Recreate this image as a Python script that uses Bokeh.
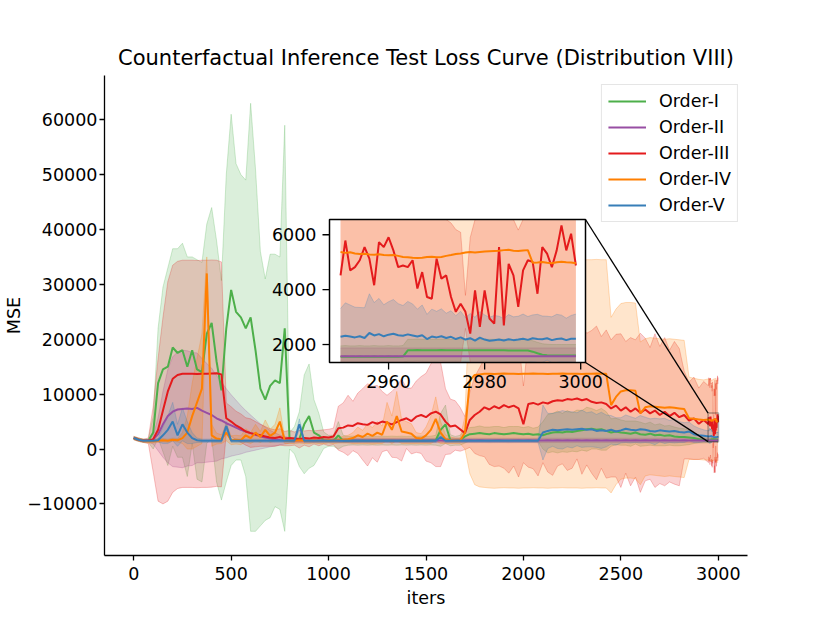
from bokeh.plotting import figure
from bokeh.models import (ColumnDataSource, Range1d, FixedTicker, CustomJSTickFormatter,
                          BoxAnnotation, Legend, LegendItem)
from bokeh.core.properties import value
from bokeh.embed import file_html
from bokeh.resources import INLINE

FONT = "DejaVu Sans"

# ---------------- data ----------------
# iterations: every 25 iters up to 2925, then every iter for the last 50 (zoomed in the inset)
iters = list(range(0, 2926, 25)) + list(range(2950, 3000))

x_ticks = [0, 500, 1000, 1500, 2000, 2500, 3000]
y_ticks = [-10000, 0, 10000, 20000, 30000, 40000, 50000, 60000]
inset_x_ticks = [2960, 2980, 3000]
inset_y_ticks = [2000, 4000, 6000]

names = ["Order-I", "Order-II", "Order-III", "Order-IV", "Order-V"]
colors = ["#4daf4a", "#984ea3", "#e41a1c", "#ff7f00", "#377eb8"]

order1_mean = [
    2000, 1700, 1500, 1500, 3000, 12000, 14500, 15000, 18500, 17500,
    18000, 15000, 18000, 14500, 14000, 21000, 23000, 16000, 10700, 22000,
    29000, 25000, 24000, 22000, 24000, 18000, 11000, 9000, 11500, 12500,
    12000, 22000, 1500, 1600, 1800, 4500, 6000, 3000, 2500, 1600,
    1500, 1500, 2500, 1500, 1500, 1550, 1500, 1550, 1500, 1550,
    1500, 1550, 1500, 1550, 1500, 1550, 1500, 1550, 1500, 1550,
    1500, 1550, 1600, 3500, 4500, 1600, 1500, 1600, 2300, 2700,
    2800, 2900, 2800, 2700, 2900, 2800, 2700, 2800, 2900, 2800,
    2700, 2800, 2600, 2700, 2500, 2800, 3000, 3100, 3000, 3200,
    3100, 3300, 3400, 3600, 3700, 3500, 3600, 3300, 3000, 3200,
    3000, 2900, 2800, 3000, 2700, 2600, 2800, 2500, 2600, 2400,
    2500, 2300, 2200, 2200, 2100, 2000, 1800, 1600,
    1550, 1560, 1550, 1550, 1560, 1550, 1550, 1560, 1550, 1550,
    1560, 1550, 1550, 1560, 1790, 1790, 1800, 1790, 1790, 1790,
    1790, 1800, 1790, 1790, 1790, 1790, 1790, 1790, 1790, 1790,
    1790, 1790, 1790, 1790, 1790, 1780, 1780, 1780, 1780, 1780,
    1740, 1680, 1630, 1610, 1600, 1600, 1600, 1600, 1600, 1600,
]
order1_std = [
    300, 300, 300, 300, 3000, 10000, 15000, 18000, 18000, 19000,
    19500, 20000, 17000, 20000, 20000, 20000, 21000, 22000, 20000, 28000,
    32000, 27000, 26000, 27000, 39000, 33000, 25000, 22000, 24000, 23000,
    23000, 37000, 1500, 2500, 5000, 9000, 9500, 6000, 4000, 1500,
    1000, 1000, 2500, 1000, 800, 800, 800, 800, 800, 800,
    800, 800, 800, 800, 800, 800, 800, 800, 800, 800,
    800, 800, 900, 3000, 3500, 1000, 800, 900, 1200, 1200,
    1200, 1300, 1200, 1300, 1200, 1300, 1200, 1300, 1200, 1300,
    1200, 1300, 1200, 1300, 2500, 3500, 3500, 3800, 3500, 3800,
    3500, 3800, 3600, 4000, 3700, 3500, 3800, 3500, 2500, 2400,
    2300, 2200, 2300, 2100, 2200, 2000, 2100, 1900, 2000, 1800,
    1800, 1700, 1600, 1500, 1300, 1000, 700, 500,
    400, 400, 400, 400, 400, 400, 400, 400, 400, 400,
    400, 400, 400, 400, 400, 400, 400, 400, 400, 400,
    400, 400, 400, 400, 400, 400, 400, 400, 400, 400,
    400, 400, 400, 400, 400, 400, 400, 400, 400, 400,
    400, 400, 400, 400, 400, 400, 400, 400, 400, 400,
]

order2_mean = [
    2000, 1700, 1500, 1500, 1700, 2700, 4500, 6000, 6800, 7200,
    7300, 7400, 7300, 7500, 7000, 6600, 6200, 5600, 5200, 4700,
    4300, 3900, 3500, 3200, 2900, 2600, 2300, 2100, 1900, 1750,
    1650, 1600, 1580, 1570, 1560, 1560, 1550, 1550, 1550, 1550,
    1560, 1550, 1560, 1570, 1560, 1550, 1560, 1570, 1560, 1550,
    1560, 1570, 1560, 1550, 1560, 1570, 1560, 1550, 1560, 1570,
    1560, 1550, 1560, 1570, 1560, 1550, 1570, 1560, 1570, 1580,
    1570, 1580, 1570, 1560, 1570, 1580, 1570, 1560, 1570, 1580,
    1570, 1580, 1570, 1560, 1570, 1580, 1570, 1580, 1570, 1580,
    1570, 1580, 1570, 1580, 1570, 1580, 1570, 1580, 1570, 1580,
    1570, 1580, 1570, 1580, 1570, 1580, 1570, 1580, 1570, 1580,
    1570, 1580, 1570, 1580, 1570, 1580, 1570, 1575,
    1575, 1575, 1575, 1575, 1575, 1575, 1575, 1575, 1575, 1575,
    1575, 1575, 1575, 1575, 1575, 1575, 1575, 1575, 1575, 1575,
    1575, 1575, 1575, 1575, 1575, 1575, 1575, 1575, 1575, 1575,
    1575, 1575, 1575, 1575, 1575, 1575, 1575, 1575, 1575, 1575,
    1575, 1575, 1575, 1575, 1575, 1575, 1575, 1575, 1575, 1575,
]
order2_std = [
    200, 200, 200, 200, 800, 3000, 6000, 8500, 10000, 10500,
    10700, 10500, 10300, 10000, 9500, 9000, 8500, 7800, 7000, 6300,
    5600, 5000, 4400, 3800, 3300, 2800, 2300, 1900, 1500, 1200,
    900, 700, 500, 450, 400, 400, 400, 400, 400, 400,
    400, 400, 400, 400, 400, 400, 400, 400, 400, 400,
    400, 400, 400, 400, 400, 400, 400, 400, 400, 400,
    400, 400, 400, 400, 400, 400, 400, 400, 400, 400,
    400, 400, 400, 400, 400, 400, 400, 400, 400, 400,
    400, 400, 400, 400, 400, 400, 400, 400, 400, 400,
    400, 400, 400, 400, 400, 400, 400, 400, 400, 400,
    400, 400, 400, 400, 400, 400, 400, 400, 400, 400,
    400, 400, 400, 400, 400, 400, 350, 300,
    300, 300, 300, 300, 300, 300, 300, 300, 300, 300,
    300, 300, 300, 300, 300, 300, 300, 300, 300, 300,
    300, 300, 300, 300, 300, 300, 300, 300, 300, 300,
    300, 300, 300, 300, 300, 300, 300, 300, 300, 300,
    300, 300, 300, 300, 300, 300, 300, 300, 300, 300,
]

order3_mean = [
    2000, 1700, 1500, 1500, 1800, 3500, 7000, 10500, 12800, 13500,
    13700, 13700, 13700, 13650, 13700, 13700, 13750, 13800, 13600, 5600,
    5000, 4300, 3800, 3200, 2900, 2700, 2500, 2300, 2100, 2000,
    2200, 1900, 2000, 1900, 1800, 2000, 1900, 2100, 2000, 2200,
    2100, 2300, 3800, 3900, 4300, 4200, 4700, 4500, 4400, 4900,
    4600, 5000, 4800, 4500, 4900, 5300, 5600, 5100, 5900, 6200,
    5800, 6500, 6800, 6300, 5000, 4100, 4300, 3600, 2900, 5300,
    6200, 6800, 7600, 7200, 7800, 7400, 8000, 7600, 7900, 7400,
    4500, 8200, 8400, 8100, 8500, 8300, 8700, 8900, 8800, 9100,
    9000, 9200, 8900, 9100, 8600, 8400, 8500, 8200, 7400, 7900,
    7000, 7600, 6800, 7400, 6600, 7200, 6500, 7000, 6200, 6800,
    6000, 6600, 5800, 6200, 5200, 5600, 4600, 5300,
    4520, 5790, 4700, 4820, 5070, 5550, 5130, 4160, 5730, 5550,
    5910, 5430, 4820, 4880, 4820, 5070, 4040, 4640, 3730, 3670,
    5130, 4400, 4520, 3730, 3190, 3490, 3190, 2400, 3970, 2640,
    3970, 2950, 2760, 5550, 2700, 4940, 4520, 3370, 4700, 5070,
    5010, 3850, 5550, 5310, 4820, 5430, 6340, 5430, 6040, 4880,
]
order3_std = [
    300, 300, 300, 500, 6000, 13000, 17000, 20000, 20700, 20700,
    20700, 20700, 20700, 20700, 20700, 20700, 20700, 20600, 20500, 2800,
    2700, 2600, 2600, 2500, 2600, 2300, 2000, 1800, 1600, 1500,
    1500, 1300, 1400, 1200, 1600, 1300, 1500, 1200, 1400, 1300,
    1500, 1500, 4000, 4500, 5500, 4500, 5500, 6500, 7500, 6500,
    7000, 5500, 5000, 6000, 6500, 7500, 5500, 6000, 6500, 7000,
    8000, 9000, 10000, 9500, 6000, 5000, 4500, 4000, 3000, 5000,
    7000, 8000, 9000, 10000, 11000, 10500, 11500, 12000, 11000, 12500,
    7000, 11500, 12000, 13000, 11000, 12500, 13500, 12000, 11500, 13000,
    12500, 11000, 13500, 12000, 13000, 14000, 12000, 13500, 12500, 13000,
    14000, 12000, 13500, 12500, 14500, 13000, 12000, 14000, 12500, 13500,
    12000, 13000, 12500, 8000, 7000, 7500, 6500, 7000,
    7000, 7200, 6900, 7100, 7000, 7300, 6800, 7000, 7200, 7100,
    7000, 6900, 7100, 7000, 7200, 6900, 7100, 7000, 6800, 7000,
    7100, 7000, 6900, 2700, 3000, 2600, 600, 3500, 7000, 7000,
    7000, 7000, 7000, 7000, 7000, 7000, 7000, 2800, 7000, 7000,
    7000, 7000, 7000, 7000, 7000, 7000, 7000, 7000, 7000, 7000,
]

order4_mean = [
    2000, 1700, 1500, 1400, 1400, 1500, 1600, 1500, 1700, 1600,
    2000, 3000, 6000, 8500, 11000, 32000, 2500, 1900, 1800, 3000,
    1600, 1700, 1600, 2500, 2000, 3000, 2200, 3500, 2400, 3000,
    5000, 1500, 1500, 1500, 1600, 1500, 1500, 1600, 1500, 1500,
    1600, 1500, 1600, 1700, 1800, 2000, 2500, 2200, 2800, 2400,
    3000, 2600, 5000, 3500, 6000, 3200, 3000, 2800, 2000, 1900,
    2500, 3500, 5500, 3000, 1800, 1600, 1500, 1500, 3000, 12500,
    13500, 13600, 13700, 13700, 13650, 13700, 13750, 13700, 13700, 13650,
    13700, 13700, 13750, 13700, 13700, 13650, 13700, 13700, 13750, 13700,
    13700, 13700, 13650, 13700, 13700, 13750, 13700, 13700, 8000, 9500,
    10500, 10700, 10700, 10600, 6500, 7600, 7800, 7700, 7600, 7500,
    7600, 7500, 7400, 7300, 5600, 5500, 5400, 5300,
    5370, 5340, 5360, 5320, 5300, 5310, 5280, 5270, 5290, 5260,
    5250, 5260, 5230, 5190, 5180, 5160, 5150, 5160, 5190, 5200,
    5180, 5190, 5230, 5260, 5300, 5320, 5350, 5370, 5350, 5370,
    5390, 5400, 5410, 5420, 5440, 5450, 5420, 5410, 5430, 5440,
    4980, 4990, 5010, 4980, 4960, 5000, 5020, 5000, 4990, 4960,
]
order4_std = [
    300, 300, 300, 300, 300, 300, 300, 300, 300, 300,
    1000, 3000, 6000, 8000, 10000, 3000, 2000, 1000, 800, 1500,
    800, 800, 800, 1200, 1000, 1500, 1000, 1800, 1200, 1500,
    2500, 500, 500, 500, 500, 500, 500, 500, 500, 500,
    500, 500, 500, 600, 700, 1000, 1500, 1200, 1800, 1500,
    2000, 1600, 3500, 2500, 4500, 2200, 2000, 1800, 1000, 900,
    1500, 2500, 4000, 2000, 800, 600, 500, 500, 3000, 17000,
    20000, 20500, 20700, 20800, 20800, 20800, 20800, 20800, 20800, 20800,
    20800, 20800, 20800, 20800, 20800, 20800, 20800, 20800, 20800, 20800,
    20800, 20800, 20800, 20800, 20800, 20800, 20800, 20800, 16000, 16000,
    16000, 16000, 16000, 16000, 13000, 12500, 12500, 12500, 12500, 12500,
    12500, 12500, 12500, 12500, 7500, 7400, 7300, 7300,
    7400, 7400, 7400, 7400, 7400, 7400, 7400, 7400, 7400, 7400,
    7400, 7400, 7400, 7400, 7400, 7400, 7400, 7400, 7400, 7400,
    7400, 7400, 7400, 7400, 7400, 7400, 7400, 7400, 7400, 7400,
    7400, 7400, 7400, 7400, 7400, 7400, 7400, 7400, 7400, 7400,
    7400, 7400, 7400, 7400, 7400, 7400, 7400, 7400, 7400, 7400,
]

order5_mean = [
    2000, 1700, 1500, 1500, 1500, 1600, 2500, 3500, 5000, 2500,
    4500, 3000, 2000, 1600, 1500, 1500, 1500, 1500, 1500, 4200,
    1500, 1500, 1500, 1500, 1500, 1500, 1500, 1500, 1500, 1500,
    1500, 1500, 1500, 1500, 4500, 1500, 1500, 1500, 1500, 1500,
    1500, 1500, 1500, 1500, 1500, 1500, 1500, 1500, 1500, 1500,
    1500, 1500, 1500, 1500, 1500, 1500, 1500, 1500, 1500, 1500,
    1500, 1500, 1500, 2200, 1500, 1500, 1500, 1500, 1500, 1500,
    1500, 1500, 1500, 1500, 1500, 1500, 1500, 1500, 1500, 1500,
    1500, 1500, 1500, 1500, 3000, 3300, 3500, 3400, 3500, 3600,
    3500, 3600, 3700, 3500, 3600, 3300, 3400, 3300, 3500, 3200,
    3400, 3700, 3500, 3400, 3600, 3500, 3300, 3200, 3400, 3300,
    3200, 3300, 3100, 3000, 3200, 2700, 2500, 2400,
    2280, 2320, 2290, 2260, 2300, 2240, 2420, 2330, 2380, 2300,
    2360, 2390, 2340, 2320, 2370, 2330, 2290, 2340, 2200, 2290,
    2260, 2300, 2240, 2280, 2200, 2260, 2180, 2230, 2140, 2250,
    2180, 2140, 2160, 2180, 2150, 2190, 2160, 2180, 2210, 2170,
    2230, 2200, 2190, 2230, 2160, 2200, 2220, 2160, 2210, 2210,
]
order5_std = [
    200, 200, 200, 200, 200, 300, 1500, 2500, 3500, 2000,
    3000, 2000, 1000, 400, 300, 300, 300, 300, 300, 800,
    300, 300, 300, 300, 300, 300, 300, 300, 300, 300,
    300, 300, 300, 300, 1000, 300, 300, 300, 300, 300,
    300, 300, 300, 300, 300, 300, 300, 300, 300, 300,
    300, 300, 300, 300, 300, 300, 300, 300, 300, 300,
    300, 300, 300, 600, 300, 300, 300, 300, 300, 300,
    300, 300, 300, 300, 300, 300, 300, 300, 300, 300,
    300, 300, 300, 300, 5000, 3200, 3000, 3300, 3500, 3200,
    3300, 3000, 3400, 3100, 3200, 3000, 3300, 2900, 2600, 2500,
    2300, 2500, 2400, 2200, 2500, 2300, 2200, 2400, 2100, 2300,
    2000, 2200, 1900, 1800, 1700, 1500, 1300, 1100,
    1030, 1200, 1150, 1100, 1050, 1100, 1430, 1200, 1300, 1150,
    1200, 1250, 1150, 1100, 1200, 1150, 1000, 1100, 900, 1000,
    950, 1000, 900, 950, 850, 950, 800, 900, 850, 950,
    900, 850, 900, 850, 800, 900, 850, 850, 900, 850,
    850, 900, 850, 800, 850, 900, 850, 800, 850, 900,
]

means = [order1_mean, order2_mean, order3_mean, order4_mean, order5_mean]
stds = [order1_std, order2_std, order3_std, order4_std, order5_std]

# ---------------- layout constants ----------------
W, H = 822, 615
BL, BR, BT, BB = 104, 75, 75, 60
FW, FH = W - BL - BR, H - BT - BB
X0, X1 = -150, 3150
Y0, Y1 = -19400, 68060

# inset: data window and its frame position (pixels, relative to the figure)
IX0, IX1 = 2947.7, 3001.0
IY0, IY1 = 1345, 6556
IL, IT, IW, IH = 329, 219, 256, 143
N_TAIL = 50

p = figure(width=W, height=H, x_range=Range1d(X0, X1), y_range=Range1d(Y0, Y1),
           output_backend="svg", toolbar_location=None,
           min_border_left=BL, min_border_right=BR, min_border_top=BT, min_border_bottom=BB,
           title="Counterfactual Inference Test Loss Curve (Distribution VIII)")
p.title.text_font = FONT
p.title.text_font_size = "21px"
p.title.text_font_style = "normal"
p.title.text_color = "black"
p.title.align = "center"
p.title.standoff = 11
p.outline_line_color = None
p.xgrid.visible = False
p.ygrid.visible = False
p.background_fill_color = "white"

fmt = CustomJSTickFormatter(code="return (tick < 0 ? '\\u2212' : '') + Math.abs(tick).toFixed(0);")
for ax in (p.xaxis[0], p.yaxis[0]):
    ax.axis_line_width = 1.3
    ax.axis_line_color = "black"
    ax.major_tick_out = 5
    ax.major_tick_in = 0
    ax.major_tick_line_width = 1.3
    ax.minor_tick_out = 0
    ax.minor_tick_in = 0
    ax.major_label_text_font = FONT
    ax.major_label_text_font_size = "17.5px"
    ax.major_label_text_color = "black"
    ax.axis_label_text_font = FONT
    ax.axis_label_text_font_size = "17.5px"
    ax.axis_label_text_font_style = "normal"
    ax.axis_label_text_color = "black"
    ax.formatter = fmt
p.xaxis.major_label_standoff = 6
p.yaxis.major_label_standoff = 2
p.xaxis.ticker = FixedTicker(ticks=x_ticks)
p.yaxis.ticker = FixedTicker(ticks=y_ticks)
p.xaxis.axis_label = "iters"
p.xaxis.axis_label_standoff = 5
p.yaxis.axis_label = "MSE"
p.yaxis.axis_label_standoff = 0

# extra ranges that map the inset window onto its box inside the main frame
sx = IW / (IX1 - IX0)
sy = IH / (IY1 - IY0)
ix_start = IX0 - (IL - BL) / sx
iy_end = IY1 + (IT - BT) / sy
p.extra_x_ranges = {"ix": Range1d(ix_start, ix_start + FW / sx)}
p.extra_y_ranges = {"iy": Range1d(iy_end - FH / sy, iy_end)}

sources = []
tail_sources = []
clip = lambda v: min(max(v, IY0), IY1)
for m, s in zip(means, stds):
    lo = [a - b for a, b in zip(m, s)]
    hi = [a + b for a, b in zip(m, s)]
    sources.append(ColumnDataSource(dict(x=iters, m=m, lo=lo, hi=hi)))
    tail_sources.append(ColumnDataSource(dict(
        x=iters[-N_TAIL:], m=m[-N_TAIL:],
        lo=[clip(v) for v in lo[-N_TAIL:]], hi=[clip(v) for v in hi[-N_TAIL:]])))

# bands first, then the mean lines on top
for src, c in zip(sources, colors):
    p.varea(x="x", y1="lo", y2="hi", source=src, fill_color=c, fill_alpha=0.2)
    p.line("x", "lo", source=src, line_color=c, line_alpha=0.25, line_width=1)
    p.line("x", "hi", source=src, line_color=c, line_alpha=0.25, line_width=1)
items = []
for src, c, name in zip(sources, colors, names):
    r = p.line("x", "m", source=src, line_color=c, line_width=2)
    items.append(LegendItem(label=name, renderers=[r]))

legend = Legend(items=items, location="top_right", margin=9, padding=6, spacing=6,
                glyph_width=38, glyph_height=20, label_height=20, label_standoff=13,
                label_text_font=FONT, label_text_font_size="17.5px", label_text_color="black",
                border_line_color="#cccccc", border_line_width=1,
                background_fill_color="white", background_fill_alpha=0.8)
p.add_layout(legend)

# zoom rectangle (mark_inset)
p.add_layout(BoxAnnotation(left=IX0, right=IX1, bottom=IY0, top=IY1, fill_color=None,
                           line_color="black", line_width=1.5))

# ---- inset (drawn on top of the main glyphs, through the extra ranges) ----
ir = dict(x_range_name="ix", y_range_name="iy")
p.quad(left=[IX0], right=[IX1], bottom=[IY0], top=[IY1], fill_color="white", line_color=None, **ir)
for tsrc, c in zip(tail_sources, colors):
    p.varea(x="x", y1="lo", y2="hi", source=tsrc, fill_color=c, fill_alpha=0.2, **ir)
    p.line("x", "lo", source=tsrc, line_color=c, line_alpha=0.25, line_width=1, **ir)
    p.line("x", "hi", source=tsrc, line_color=c, line_alpha=0.25, line_width=1, **ir)
for tsrc, c in zip(tail_sources, colors):
    p.line("x", "m", source=tsrc, line_color=c, line_width=2, **ir)
p.quad(left=[IX0], right=[IX1], bottom=[IY0], top=[IY1], fill_color=None,
       line_color="black", line_width=1.5, **ir)

TICK = 7
p.segment(x0=inset_x_ticks, y0=[IY0] * len(inset_x_ticks), x1=inset_x_ticks,
          y1=[IY0 - TICK / sy] * len(inset_x_ticks), line_color="black", line_width=1.3, **ir)
p.segment(x0=[IX0] * len(inset_y_ticks), y0=inset_y_ticks, x1=[IX0 - TICK / sx] * len(inset_y_ticks),
          y1=inset_y_ticks, line_color="black", line_width=1.3, **ir)
p.text(x=inset_x_ticks, y=[IY0 - (TICK + 5) / sy] * len(inset_x_ticks),
       text=[str(t) for t in inset_x_ticks], text_align="center", text_baseline="top",
       text_font=value(FONT), text_font_size=value("17.5px"), text_color="black", **ir)
p.text(x=[IX0 - (TICK + 6) / sx] * len(inset_y_ticks), y=inset_y_ticks,
       text=[str(t) for t in inset_y_ticks], text_align="right", text_baseline="middle",
       text_font=value(FONT), text_font_size=value("17.5px"), text_color="black", **ir)

# connector lines from the inset's right corners to the zoom rectangle
kx = FW / (X1 - X0)
ky = FH / (Y1 - Y0)
cx = X0 + (IL + IW - BL) / kx
cy_top = Y1 - (IT - BT) / ky
cy_bot = Y1 - (IT + IH - BT) / ky
p.segment(x0=[cx, cx], y0=[cy_top, cy_bot], x1=[IX0, IX0], y1=[IY1, IY0],
          line_color="black", line_width=1.3)

open("out.html", "w").write(file_html(p, INLINE))
